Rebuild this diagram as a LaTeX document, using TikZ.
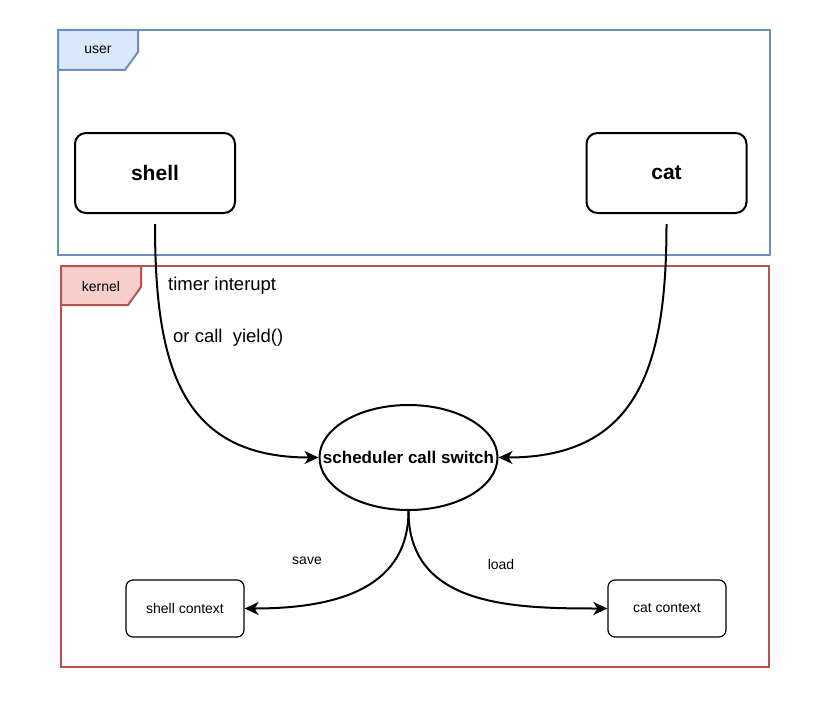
\documentclass[tikz,border=0pt]{standalone}
\usepackage{fontspec}
\setmainfont{Liberation Sans}
\usepackage{xcolor}
\usepackage{tikz}
\usetikzlibrary{arrows.meta,positioning,shapes.geometric}
\definecolor{userblue}{HTML}{6C8EBF}
\definecolor{userfill}{HTML}{DAE8FC}
\definecolor{kernred}{HTML}{B85450}
\definecolor{kernfill}{HTML}{F8CECC}

\begin{document}
\begin{tikzpicture}[
      x=1pt, y=-1pt,
      frame/.style  = {draw, line width=2pt, inner sep=0pt},
      tab/.style    = {line width=2pt},
      proc/.style   = {draw, line width=2pt, rounded corners=11pt, inner sep=0pt,
                       minimum width=160pt, minimum height=80pt,
                       font=\fontsize{21}{24}\selectfont\bfseries},
      ctx/.style    = {draw, line width=1.2pt, rounded corners=7pt, inner sep=0pt,
                       minimum width=118pt, minimum height=57pt,
                       font=\fontsize{14}{16}\selectfont},
      sched/.style  = {draw, ellipse, line width=2pt, inner sep=0pt,
                       minimum width=178pt, minimum height=105pt,
                       font=\fontsize{17}{20}\selectfont\bfseries},
      small/.style  = {inner sep=0pt, font=\fontsize{14}{16}\selectfont},
      note/.style   = {inner sep=0pt, anchor=west, font=\fontsize{18.5}{21}\selectfont},
      arr/.style    = {-{Stealth[length=14pt, width=13pt, inset=4pt]}, line width=2pt},
    ]
    \useasboundingbox (0,0) rectangle (814,709);

    % user and kernel frames
    \node[frame, draw=userblue, minimum width=712pt, minimum height=225pt]
                                      (user)   at (414,142.5) {};
    \filldraw[tab, draw=userblue, fill=userfill]
      (58,30) -- (138,30) -- (138,52) -- (125,70) -- (58,70) -- cycle;
    \node[small] (userlbl) at (98,50) {user};

    \node[frame, draw=kernred, minimum width=708pt, minimum height=401pt]
                                      (kernel) at (415,466.5) {};
    \filldraw[tab, draw=kernred, fill=kernfill]
      (61,266) -- (141,266) -- (141,287) -- (128,305) -- (61,305) -- cycle;
    \node[small] (kernlbl) at (101,286) {kernel};

    % processes
    \node[proc] (shell) at (155,173)   {shell};
    \node[proc] (cat)   at (666.5,173) {cat};
    \coordinate[below=10pt of shell] (shellout);
    \coordinate[below=10pt of cat]   (catout);

    \node[sched] (switch) at (408.5,457.5) {\makebox[0pt]{scheduler call switch}};

    \node[ctx] (shellctx) at (185,608.5) {shell context};
    \node[ctx] (catctx)   at (667,608.5) {cat context};

    \node[note] (timer) at (168,286) {timer interupt};
    \node[note] (yield) at (173,338) {or call\ \ yield()};
    \node[small] (save) at (307,561) {save};
    \node[small] (load) at (501,564) {load};

    \draw[arr] (shellout) to[out=-90, in=180, looseness=1.25] (switch.west);
    \draw[arr] (catout)   to[out=-90, in=0,   looseness=1.25] (switch.east);
    \draw[arr] (switch.south) to[out=-90, in=0,   looseness=1.1] (shellctx.east);
    \draw[arr] (switch.south) to[out=-90, in=180, looseness=1.1] (catctx.west);
  \end{tikzpicture}
\end{document}
